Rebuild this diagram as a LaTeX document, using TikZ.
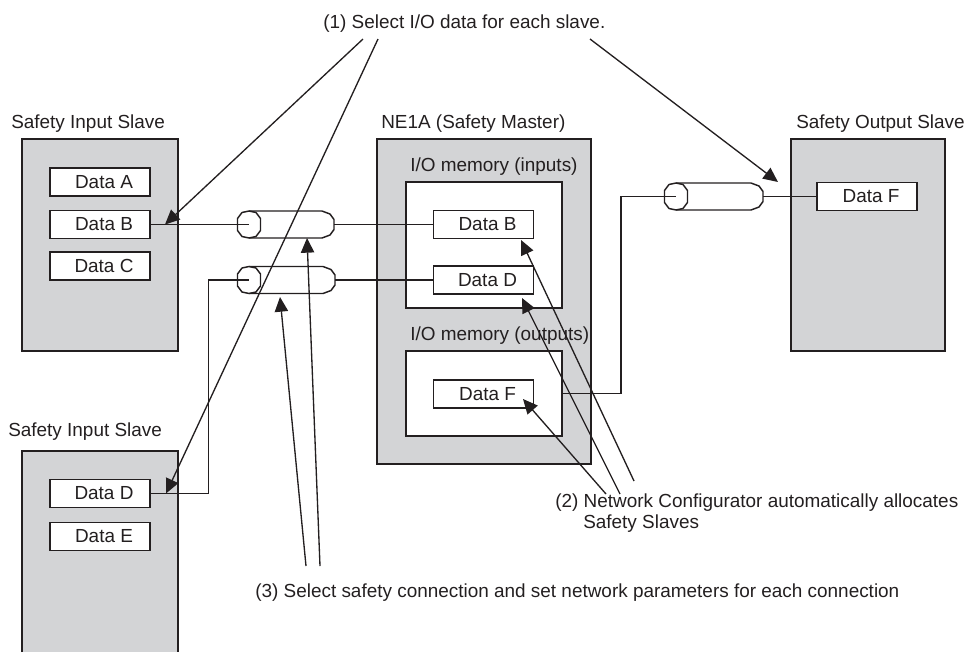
\documentclass[tikz,border=0pt]{standalone}
\usepackage{fontspec}
\setmainfont{Liberation Sans}
\usetikzlibrary{arrows.meta}
\definecolor{panel}{RGB}{211,212,214}
\definecolor{ink}{RGB}{35,31,32}
\newcommand{\conncyl}[2]{%
  \begin{scope}[shift={(#1)}]
    \draw[cylline] (-11.5,-6) -- (-7,-12) -- (0,-13.5) -- (7,-12) -- (11.5,-6)
      -- (11.5,6) -- (7,12) -- (0,13.5) -- (-7,12) -- (-11.5,6) -- cycle;
    \draw[cylline] (0,-13.5) -- (#2-12,-13.5) -- (#2-4,-10.5) -- (#2,-5)
      -- (#2,5) -- (#2-4,10.5) -- (#2-12,13.5) -- (0,13.5);
  \end{scope}}
\begin{document}
\begin{tikzpicture}[x=0.75pt,y=-0.75pt,
  every node/.style={font=\fontsize{14.2pt}{15.75pt}\selectfont, text=ink},
  panelbox/.style={draw=ink, fill=panel, line width=1.5pt},
  innerbox/.style={draw=ink, fill=white, line width=1.3pt, inner sep=0pt},
  databox/.style={draw=ink, fill=white, line width=1.2pt, minimum width=75pt, minimum height=21pt, inner sep=0pt},
  link/.style={draw=ink, line width=1pt},
  callout/.style={draw=ink, line width=1pt, -{Triangle[length=11pt,width=10pt]}},
  cylline/.style={draw=ink, line width=1.1pt, line join=round},
  lbl/.style={anchor=base west, inner sep=0pt}]
\useasboundingbox (0,0) rectangle (967,662);

% ---- panels ----
\path[panelbox] (22,139) rectangle (178,351);
\fill[panel] (22,451) rectangle (178,652);
\draw[ink, line width=1.5pt] (22,652) -- (22,451) -- (178,451) -- (178,652);
\path[panelbox] (377,139) rectangle (591,464);
\path[panelbox] (791,139) rectangle (945,351);

% ---- panel titles ----
\node[lbl] (ttlIn1) at (11,128) {Safety Input Slave};
\node[lbl] (ttlIn2) at (8,436) {Safety Input Slave};
\node[lbl] (ttlMaster) at (381,128) {NE1A (Safety Master)};
\node[lbl] (ttlOut) at (796,128) {Safety Output Slave};

% ---- master memory areas ----
\node[lbl] (ttlMemIn) at (410,171) {I/O memory (inputs)};
\node[innerbox, minimum width=117pt, minimum height=94.5pt] (memIn) at (484,245) {};
\node[lbl] (ttlMemOut) at (410,340) {I/O memory (outputs)};
\node[innerbox, minimum width=117pt, minimum height=63.75pt] (memOut) at (484,393.5) {};

% ---- data boxes ----
\node[databox] (inA) at (100,182) {\hspace*{6pt}Data A};
\node[databox] (inB) at (100,224.5) {\hspace*{6pt}Data B};
\node[databox] (inC) at (100,266) {\hspace*{6pt}Data C};
\node[databox] (loD) at (100,493.5) {\hspace*{6pt}Data D};
\node[databox] (loE) at (100,536.5) {\hspace*{6pt}Data E};
\node[databox] (mB) at (483.5,224.5) {\hspace*{6pt}Data B};
\node[databox] (mD) at (483.5,280) {\hspace*{6pt}Data D};
\node[databox] (mF) at (483.5,394) {\hspace*{6pt}Data F};
\node[databox] (outF) at (867,196.5) {\hspace*{6pt}Data F};

% ---- cylinders (safety connections) ----
\coordinate (c1in) at (249,224.5);  \coordinate (c1out) at (334,224.5);
\coordinate (c2in) at (249,280);    \coordinate (c2out) at (335,280);
\coordinate (c3in) at (676,196.5);  \coordinate (c3out) at (763,196.5);
\conncyl{c1in}{85}
\conncyl{c2in}{86}
\conncyl{c3in}{87}

% ---- connections ----
\draw[link] (inB.east) -- (c1in);
\draw[link] (c1out) -- (mB.west);
\draw[link] (loD.east) -- ++(58,0) |- (c2in);
\draw[link] (c2out) -- (mD.west);
\draw[link] (memOut.east) -- ++(58,0) |- (c3in);
\draw[link] (c3out) -- (outF.west);

% ---- callout (1) ----
\node[lbl] (note1) at (323,28) {(1) Select I/O data for each slave.};
\coordinate (n1a) at (363,39);
\coordinate (n1b) at (378,39);
\coordinate (n1c) at (590,39);
\coordinate (hitInB) at (165,224.5);
\coordinate (hitLoD) at (166,493.5);
\coordinate (hitOut) at (778,182);
\draw[callout] (n1a) -- (hitInB);
\draw[callout] (n1b) -- (hitLoD);
\draw[callout] (n1c) -- (hitOut);

% ---- callout (2) ----
\node[anchor=base west, inner sep=0pt, align=left] (note2) at (555,528)
  {(2) Network Configurator automatically allocates\\\hspace*{21pt}Safety Slaves};
\coordinate (n2a) at (606,494);
\coordinate (n2b) at (620,494);
\coordinate (n2c) at (634,481);
\coordinate (hitMF) at (523,399);
\coordinate (hitMD) at (522,298);
\coordinate (hitMB) at (521,240);
\draw[callout] (n2a) -- (hitMF);
\draw[callout] (n2b) -- (hitMD);
\draw[callout] (n2c) -- (hitMB);

% ---- callout (3) ----
\node[lbl] (note3) at (255,597) {(3) Select safety connection and set network parameters for each connection};
\coordinate (n3a) at (306,566);
\coordinate (n3b) at (320,566);
\coordinate (hitC2) at (280,297);
\coordinate (hitC1) at (307,238);
\draw[callout] (n3a) -- (hitC2);
\draw[callout] (n3b) -- (hitC1);
\end{tikzpicture}
\end{document}
